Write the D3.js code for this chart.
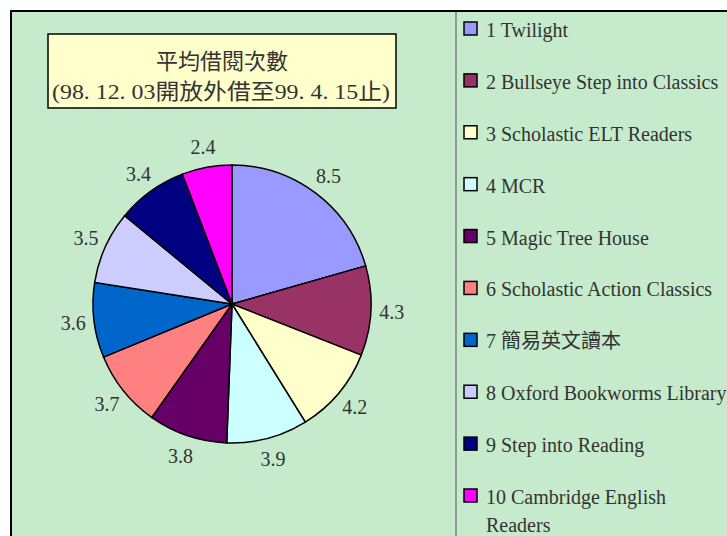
<!DOCTYPE html>
<html>
<head>
<meta charset="utf-8">
<script src="https://cdn.jsdelivr.net/npm/d3@7"></script>
<style>
  body { margin: 0; background: #fff; }
  text { font-family: "Liberation Serif", "Noto Sans CJK TC", serif; fill: #333; }
</style>
</head>
<body>
<script>
var width = 727
var height = 536

var labels = ["1 Twilight", "2 Bullseye Step into Classics", "3 Scholastic ELT Readers", "4 MCR",
  "5 Magic Tree House", "6 Scholastic Action Classics", "7 簡易英文讀本",
  "8 Oxford Bookworms Library", "9 Step into Reading", "10 Cambridge English Readers"]
var values = [8.5, 4.3, 4.2, 3.9, 3.8, 3.7, 3.6, 3.5, 3.4, 2.4]
var colors = ["#9999ff", "#993366", "#ffffcc", "#ccffff", "#660066",
  "#ff8080", "#0066cc", "#ccccff", "#000080", "#ff00ff"]

var svg = d3.select("body")
    .append("svg")
    .attr("width", width)
    .attr("height", height);

// background + frame
svg.append("rect")
    .attr("x", 11).attr("y", 11)
    .attr("width", 760).attr("height", 560)
    .attr("fill", "#c6ebcc")
    .attr("stroke", "#000")
    .attr("stroke-width", 2);

svg.append("line")
    .attr("x1", 456).attr("x2", 456)
    .attr("y1", 12).attr("y2", height)
    .attr("stroke", "#808080")
    .attr("stroke-width", 1.5);

// title box
svg.append("rect")
    .attr("x", 48).attr("y", 34)
    .attr("width", 348).attr("height", 74)
    .attr("fill", "#ffffcc")
    .attr("stroke", "#000")
    .attr("stroke-width", 1.5);

svg.append("text")
    .attr("x", 222).attr("y", 69)
    .attr("text-anchor", "middle")
    .style("font-size", "22px")
    .text("平均借閱次數");
svg.append("text")
    .attr("x", 52).attr("y", 99)
    .attr("textLength", 338)
    .attr("lengthAdjust", "spacingAndGlyphs")
    .style("font-size", "22px")
    .text("(98. 12. 03開放外借至99. 4. 15止)");

// pie
var cx = 232, cy = 304, r = 139
var pie = d3.pie().sort(null).value((d) => d)
var arc = d3.arc().innerRadius(0).outerRadius(r)
var labelArc = d3.arc().innerRadius(160).outerRadius(160)

var g = svg.append("g").attr("transform", "translate(" + cx + "," + cy + ")")
var arcs = pie(values)

g.selectAll("path")
    .data(arcs)
    .enter()
    .append("path")
    .attr("d", arc)
    .attr("fill", (d, i) => colors[i])
    .attr("stroke", "#000")
    .attr("stroke-width", 1.5);

g.selectAll("text.val")
    .data(arcs)
    .enter()
    .append("text")
    .attr("class", "val")
    .attr("x", (d) => labelArc.centroid(d)[0])
    .attr("y", (d) => labelArc.centroid(d)[1] + 7)
    .attr("text-anchor", "middle")
    .style("font-size", "20px")
    .text((d) => d.data);

// legend
var legend = svg.append("g")
var rowY = d3.scaleLinear().domain([0, 9]).range([30, 497])

labels.forEach(function (name, i) {
    var y = rowY(i)
    legend.append("rect")
        .attr("x", 464).attr("y", y - 8)
        .attr("width", 13).attr("height", 13)
        .attr("fill", colors[i])
        .attr("stroke", "#000")
        .attr("stroke-width", 1.5);
    if (i == 9) {
        var t = legend.append("text")
            .attr("x", 486).attr("y", y + 7)
            .style("font-size", "20px")
        t.append("tspan").text("10 Cambridge English")
        t.append("tspan").attr("x", 486).attr("dy", 28).text("Readers")
    } else {
        legend.append("text")
            .attr("x", 486).attr("y", y + 7)
            .style("font-size", "20px")
            .text(name);
    }
})
</script>
</body>
</html>
